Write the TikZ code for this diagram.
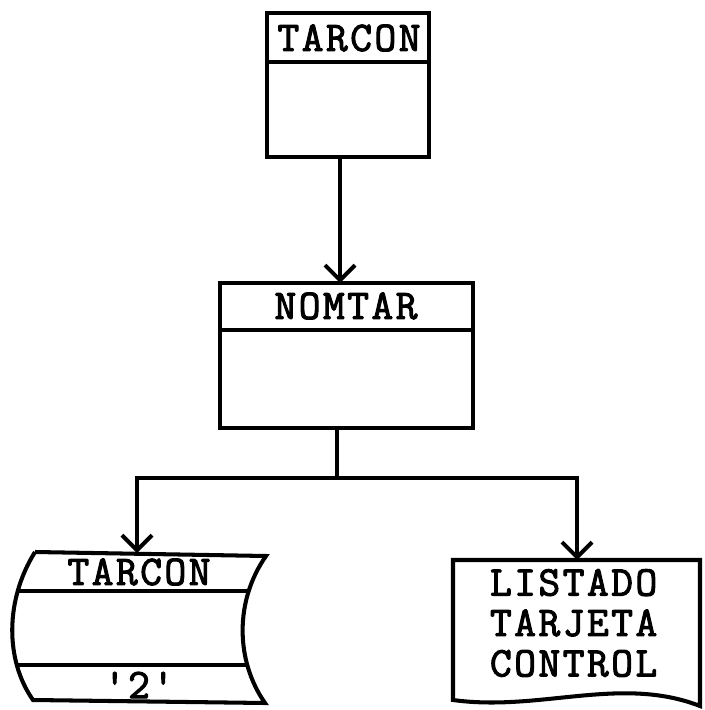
\documentclass[tikz,border=0pt]{standalone}
\usepackage{fontspec}
\newfontfamily\maquina{Latin Modern Mono}[FakeBold=2.5,LetterSpace=6]
\usetikzlibrary{arrows.meta}
\tikzset{
  flecha/.style={-{Straight Barb[length=3mm,width=6mm]}},
  rotulo/.style={font=\maquina\fontsize{24}{23}\selectfont, inner sep=0pt}
}
\begin{document}
\begin{tikzpicture}[x=0.02cm,y=-0.02cm,line width=2.3pt]
\useasboundingbox (0,0) rectangle (705,710);

% proceso TARCON
\draw (267,13) rectangle (429,157);
\draw (267,62) -- (429,62);
\node[rotulo] (tarcon) at (349,38) {TARCON};
\coordinate (tarconsal) at (340,157);

% proceso NOMTAR
\draw (220,283) rectangle (473,428);
\draw (220,330) -- (473,330);
\node[rotulo] (nomtar) at (346,306) {NOMTAR};
\coordinate (nomtarent) at (340,283);
\coordinate (nomtarsal) at (337,428);
\coordinate (rama) at (337,478);

% cinta TARCON
\draw (35,552) -- (266,556) .. controls (235,600) and (235,660) .. (265,703)
  -- (33,700) .. controls (5,660) and (5,600) .. (35,552);
\begin{scope}
\clip (35,552) -- (266,556) .. controls (235,600) and (235,660) .. (265,703)
  -- (33,700) .. controls (5,660) and (5,600) .. (35,552);
\draw (0,591) -- (300,591);
\draw (0,665) -- (300,665);
\end{scope}
\node[rotulo] (cinta) at (139,572) {TARCON};
\node[rotulo] (clave) at (139,685) {'2'};
\coordinate (cintaent) at (137,553);

% listado
\draw (453,560) -- (700,560) -- (700,706) .. controls (620,675) and (540,712) .. (453,700) -- cycle;
\node[rotulo, anchor=west, align=left] (listado) at (488,623) {LISTADO\\TARJETA\\CONTROL};
\coordinate (listadoent) at (577,560);

% conexiones
\draw[flecha] (tarconsal) -- (nomtarent);
\draw (nomtarsal) -- (rama);
\draw[flecha] (rama) -| (cintaent);
\draw[flecha] (rama) -| (listadoent);
\end{tikzpicture}
\end{document}
